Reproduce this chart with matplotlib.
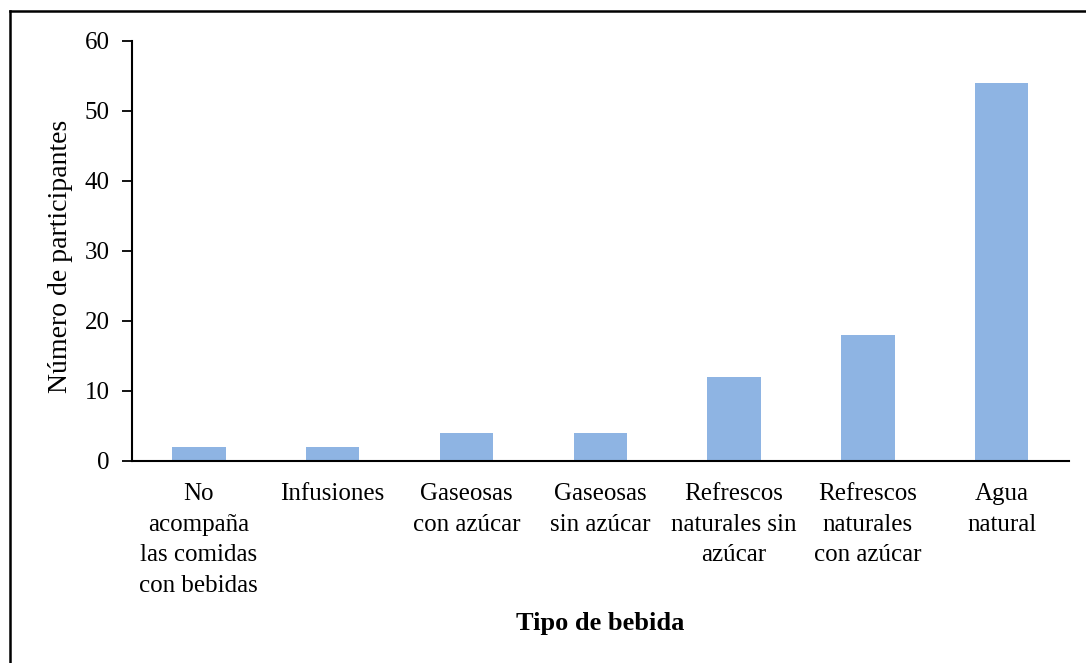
# Bar chart: tipo de bebida vs numero de participantes

import matplotlib
matplotlib.use('Agg')
import matplotlib.pyplot as plt
from matplotlib.lines import Line2D
import numpy as np

categorias = ['No\nacompaña\nlas comidas\ncon bebidas', 'Infusiones',
              'Gaseosas\ncon azúcar', 'Gaseosas\nsin azúcar',
              'Refrescos\nnaturales sin\nazúcar', 'Refrescos\nnaturales\ncon azúcar',
              'Agua\nnatural']
participantes = [2, 2, 4, 4, 12, 18, 54]
y_ticks = [0, 10, 20, 30, 40, 50, 60]

plt.rcParams['font.family'] = ['Liberation Serif', 'DejaVu Serif']

fig = plt.figure(figsize=(10.86, 6.63), dpi=100)
ax = fig.add_axes([0.1215, 0.3047, 0.8625, 0.6335])

x = np.arange(len(categorias))
ax.bar(x, participantes, width=0.40, color='#8EB4E3', zorder=2)

ax.set_xlim(-0.5, len(categorias) - 0.5)
ax.set_ylim(0, 60)
ax.set_yticks(y_ticks)
ax.set_xticks(x)
ax.set_xticklabels(categorias, fontsize=18, linespacing=1.5, va='top')
ax.tick_params(axis='x', length=0, pad=16)
ax.tick_params(axis='y', labelsize=18, length=7, width=1.3, pad=9)

for side in ['top', 'right']:
    ax.spines[side].set_visible(False)
for side in ['left', 'bottom']:
    ax.spines[side].set_linewidth(1.5)
    ax.spines[side].set_color('black')

ax.set_ylabel('Número de participantes', fontsize=20)
ax.yaxis.set_label_coords(-0.063, 0.486)
ax.set_xlabel('Tipo de bebida', fontsize=19, fontweight='bold')
ax.xaxis.set_label_coords(0.5, -0.36)

# outer frame (cropped figure border)
fig.add_artist(Line2D([10 / 1086, 1], [1 - 11 / 663, 1 - 11 / 663],
                      transform=fig.transFigure, color='black', lw=1.8))
fig.add_artist(Line2D([10 / 1086, 10 / 1086], [0, 1 - 11 / 663],
                      transform=fig.transFigure, color='black', lw=1.8))

fig.savefig('out.png', dpi=100)
